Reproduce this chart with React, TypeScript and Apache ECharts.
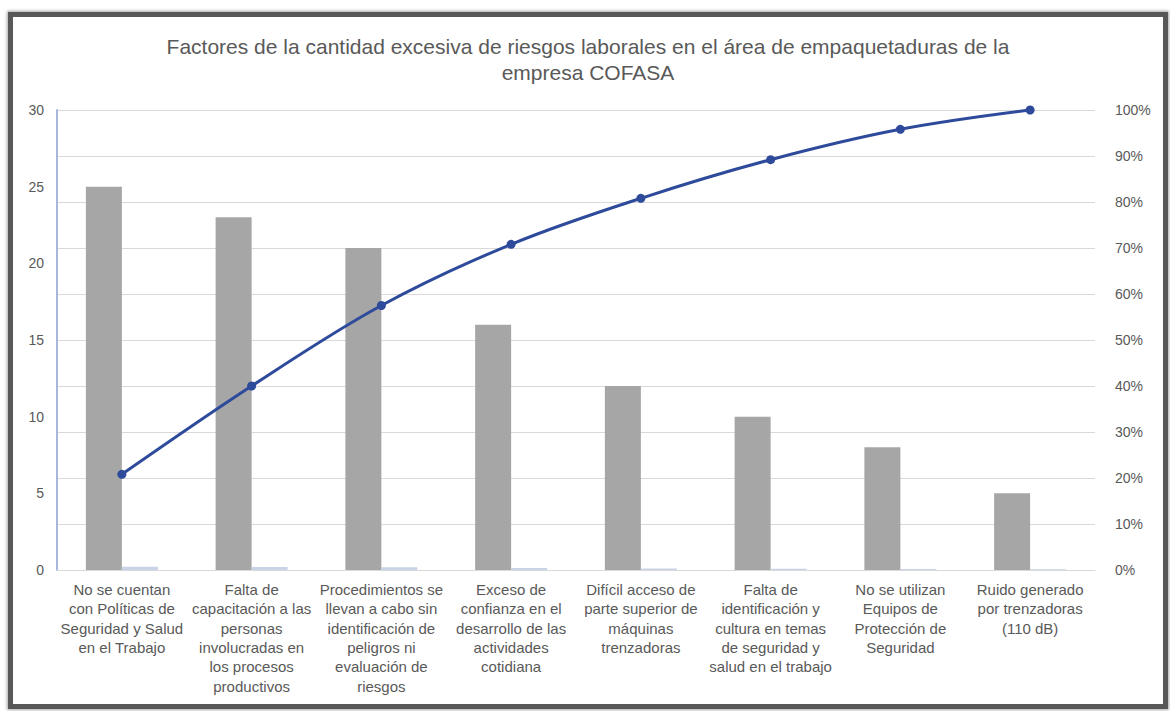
import React, { useEffect, useRef } from "react";
import * as echarts from "echarts";

const titleLines = [
  "Factores de la cantidad excesiva de riesgos laborales en el área de empaquetaduras de la",
  "empresa COFASA",
];

const categories = [
  "No se cuentan\ncon Políticas de\nSeguridad y Salud\nen el Trabajo",
  "Falta de\ncapacitación a las\npersonas\ninvolucradas en\nlos procesos\nproductivos",
  "Procedimientos se\nllevan a cabo sin\nidentificación de\npeligros ni\nevaluación de\nriesgos",
  "Exceso de\nconfianza en el\ndesarrollo de las\nactividades\ncotidiana",
  "Difícil acceso de\nparte superior de\nmáquinas\ntrenzadoras",
  "Falta de\nidentificación y\ncultura en temas\nde seguridad y\nsalud en el trabajo",
  "No se utilizan\nEquipos de\nProtección de\nSeguridad",
  "Ruido generado\npor trenzadoras\n(110 dB)",
];

const frequency = [25, 23, 21, 16, 12, 10, 8, 5];
const relativeShare = [0.208, 0.192, 0.175, 0.133, 0.1, 0.083, 0.067, 0.042];
const cumulativePct = [0.208, 0.4, 0.575, 0.708, 0.808, 0.892, 0.958, 1.0];

const FONT = "'Liberation Sans', Arial, sans-serif";
const TEXT = "#595959";

export default function App() {
  const ref = useRef<HTMLDivElement>(null);

  useEffect(() => {
    if (!ref.current) return;
    const chart = echarts.init(ref.current, undefined, { renderer: "svg" });
    chart.setOption({
      animation: false,
      backgroundColor: "#ffffff",
      textStyle: { fontFamily: FONT },
      title: {
        text: titleLines.join("\n"),
        left: "center",
        top: 11,
        textStyle: {
          fontFamily: FONT,
          fontSize: 21,
          fontWeight: "normal",
          color: TEXT,
          lineHeight: 26,
        },
      },
      grid: { left: 44, right: 68, top: 93, bottom: 134, containLabel: false },
      xAxis: {
        type: "category",
        data: categories,
        axisTick: { show: false },
        axisLine: { lineStyle: { color: "#d9d9d9", width: 1 } },
        axisLabel: {
          interval: 0,
          color: TEXT,
          fontFamily: FONT,
          fontSize: 15,
          lineHeight: 19.3,
          margin: 10,
          align: "center",
        },
      },
      yAxis: [
        {
          type: "value",
          min: 0,
          max: 30,
          interval: 5,
          splitLine: { show: false },
          axisTick: { show: false },
          axisLine: { show: true, lineStyle: { color: "#a7b8dc", width: 2 } },
          axisLabel: { color: TEXT, fontFamily: FONT, fontSize: 14, margin: 13 },
        },
        {
          type: "value",
          min: 0,
          max: 1,
          interval: 0.1,
          position: "right",
          splitLine: { show: true, lineStyle: { color: "#d9d9d9", width: 1 } },
          axisTick: { show: false },
          axisLine: { show: false },
          axisLabel: {
            color: TEXT,
            fontFamily: FONT,
            fontSize: 14,
            margin: 20,
            formatter: (v: number) => Math.round(v * 100) + "%",
          },
        },
      ],
      series: [
        {
          type: "bar",
          data: frequency,
          barWidth: 36,
          barGap: "0%",
          itemStyle: { color: "#a6a6a6" },
          z: 2,
        },
        {
          type: "bar",
          data: relativeShare,
          barWidth: 36,
          barGap: "0%",
          itemStyle: { color: "#c9d3e8" },
          z: 2,
        },
        {
          type: "line",
          yAxisIndex: 1,
          data: cumulativePct,
          smooth: 0.35,
          symbol: "circle",
          symbolSize: 9,
          lineStyle: { color: "#2e4a9b", width: 3 },
          itemStyle: { color: "#2e4a9b" },
          z: 5,
        },
      ],
    });
    return () => chart.dispose();
  }, []);

  return (
    <div
      style={{
        position: "fixed",
        left: 8,
        top: 12,
        width: 1160,
        height: 697,
        boxSizing: "border-box",
        border: "5px solid #585858",
        boxShadow: "0 0 3px 1px rgba(0,0,0,0.35)",
        background: "#ffffff",
      }}
    >
      <div ref={ref} style={{ width: 1150, height: 687 }} />
    </div>
  );
}
